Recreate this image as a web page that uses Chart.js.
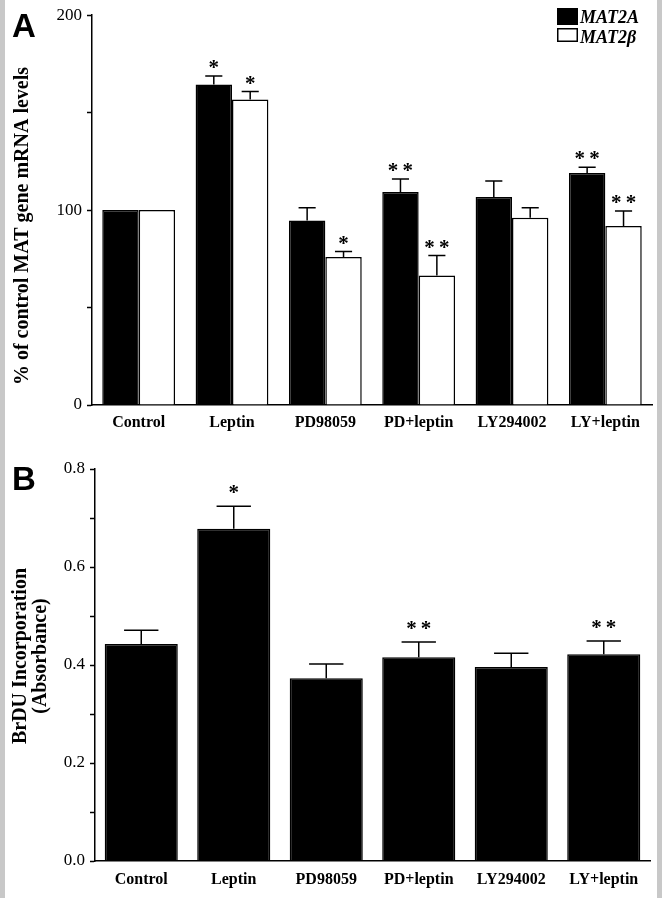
<!DOCTYPE html>
<html>
<head>
<meta charset="utf-8">
<script src="https://cdn.jsdelivr.net/npm/chart.js@4.4.1/dist/chart.umd.min.js"></script>
<style>
    html, body { margin: 0; padding: 0; background: #fff; }
    body { width: 662px; height: 898px; position: relative; overflow: hidden; }
    .edge { position: absolute; top: 0; width: 5px; height: 898px; background: #c8c8c8; }
    #panelA { position: absolute; left: 0; top: 0; }
    #panelB { position: absolute; left: 0; top: 450px; }
</style>
</head>
<body>
<div class="edge" style="left:0"></div>
<div class="edge" style="left:657px"></div>
<canvas id="panelA" width="662" height="450"></canvas>
<canvas id="panelB" width="662" height="448"></canvas>
<script>
// treatments on the x axis (both panels)
const treatments = ['Control', 'Leptin', 'PD98059', 'PD+leptin', 'LY294002', 'LY+leptin'];

// panel A: % of control MAT gene mRNA levels
const mat2aValues = [100, 164.5, 94.7, 109.3, 106.7, 119];
const mat2aErrors = [0, 4.3, 6.5, 6.6, 8.2, 3];
const mat2aMarks = ['', '*', '', '**', '', '**'];
const mat2bValues = [100, 156.8, 76, 66.5, 96.1, 91.8];
const mat2bErrors = [0, 4, 2.7, 10.2, 5.1, 7.7];
const mat2bMarks = ['', '*', '*', '**', '', '**'];
const mrnaTickLabels = ['0', '100', '200'];

// panel B: BrDU incorporation (absorbance)
const brduValues = [0.443, 0.678, 0.373, 0.416, 0.396, 0.422];
const brduErrors = [0.028, 0.046, 0.029, 0.031, 0.028, 0.027];
const brduMarks = ['', '*', '', '**', '', '**'];
const brduTickLabels = ['0.0', '0.2', '0.4', '0.6', '0.8'];

const serif = '"Liberation Serif", "Times New Roman", serif';
Chart.defaults.font.family = serif;
Chart.defaults.color = '#000';

// upward error bars with a cap, plus the significance stars above them
const errorBars = {
    id: 'errorBars',
    afterDatasetsDraw(chart, args, opts) {
        const ctx = chart.ctx;
        const yScale = chart.scales.y;
        ctx.save();
        ctx.strokeStyle = '#000';
        ctx.fillStyle = '#000';
        ctx.lineWidth = 1.5;
        chart.data.datasets.forEach((ds, i) => {
            const meta = chart.getDatasetMeta(i);
            meta.data.forEach((bar, j) => {
                const err = ds.errors[j];
                const top = yScale.getPixelForValue(ds.data[j] + err);
                const half = bar.width * opts.capRatio / 2;
                if (err > 0) {
                    ctx.beginPath();
                    ctx.moveTo(bar.x, bar.y);
                    ctx.lineTo(bar.x, top);
                    ctx.moveTo(bar.x - half, top);
                    ctx.lineTo(bar.x + half, top);
                    ctx.stroke();
                }
                if (ds.marks[j]) {
                    ctx.font = 'bold 21px ' + serif;
                    ctx.textAlign = 'center';
                    ctx.textBaseline = 'alphabetic';
                    ctx.fillText(ds.marks[j].split('').join('\u2009'), bar.x, top - opts.markGap);
                }
            });
        });
        ctx.restore();
    }
};

// panel letter and rotated y title
const panelDecor = {
    id: 'panelDecor',
    afterDraw(chart, args, opts) {
        const ctx = chart.ctx;
        ctx.save();
        ctx.fillStyle = '#000';
        ctx.font = 'bold 33px "Liberation Sans", Arial, sans-serif';
        ctx.textAlign = 'left';
        ctx.textBaseline = 'alphabetic';
        ctx.fillText(opts.letter, opts.letterX, opts.letterY);

        ctx.translate(opts.titleX, opts.titleY);
        ctx.rotate(-Math.PI / 2);
        ctx.font = 'bold 20px ' + serif;
        ctx.textAlign = 'center';
        ctx.textBaseline = 'middle';
        opts.title.forEach((line, k) => ctx.fillText(line, 0, k * opts.titleLine));
        ctx.restore();

        if (opts.legend) {
            ctx.save();
            ctx.font = 'italic bold 18px ' + serif;
            ctx.textAlign = 'left';
            ctx.textBaseline = 'alphabetic';
            ctx.lineWidth = 1.5;
            chart.data.datasets.forEach((ds, i) => {
                const y = opts.legendY + i * 20;
                ctx.fillStyle = ds.backgroundColor;
                ctx.fillRect(opts.legendX, y, 21, i === 0 ? 17 : 14);
                ctx.strokeStyle = '#000';
                ctx.strokeRect(opts.legendX + 0.75, y + 0.75, 19.5, i === 0 ? 15.5 : 12.5);
                ctx.fillStyle = '#000';
                ctx.fillText(ds.label, opts.legendX + 23, y + 15);
            });
            ctx.restore();
        }
    }
};

function yAxis(max, step, width, label) {
    return {
        min: 0,
        max: max,
        afterFit: (scale) => { scale.width = width; },
        ticks: {
            stepSize: step,
            padding: 5,
            font: { size: 17 },
            callback: label
        },
        grid: {
            drawOnChartArea: false,
            drawTicks: true,
            tickLength: 5,
            tickWidth: 1.5,
            tickColor: '#000'
        },
        border: { color: '#000', width: 1.5 }
    };
}

function xAxis(height, pad) {
    return {
        afterFit: (scale) => { scale.height = height; },
        ticks: {
            padding: pad,
            maxRotation: 0,
            font: { size: 16, weight: 'bold' }
        },
        grid: { drawOnChartArea: false, drawTicks: false },
        border: { color: '#000', width: 1.5 }
    };
}

new Chart(document.getElementById('panelA'), {
    type: 'bar',
    data: {
        labels: treatments,
        datasets: [{
            label: 'MAT2A',
            data: mat2aValues,
            errors: mat2aErrors,
            marks: mat2aMarks,
            backgroundColor: '#000',
            borderColor: '#000',
            borderWidth: 1.5,
            categoryPercentage: 0.78,
            barPercentage: 1
        },
        {
            label: 'MAT2\u03b2',
            data: mat2bValues,
            errors: mat2bErrors,
            marks: mat2bMarks,
            backgroundColor: '#fff',
            borderColor: '#000',
            borderWidth: 1.5,
            categoryPercentage: 0.78,
            barPercentage: 1
        }]
    },
    plugins: [errorBars, panelDecor],
    options: {
        responsive: false,
        animation: false,
        layout: { padding: { top: 13, right: 10, bottom: 0, left: 0 } },
        scales: {
            x: xAxis(45, 8),
            y: yAxis(200, 50, 92, (v) => v % 100 === 0 ? mrnaTickLabels[v / 100] : '')
        },
        plugins: {
            legend: { display: false },
            tooltip: { enabled: false },
            errorBars: { capRatio: 0.47, markGap: 2 },
            panelDecor: {
                letter: 'A', letterX: 12, letterY: 37,
                title: ['% of control MAT gene mRNA levels'], titleX: 23, titleY: 226, titleLine: 18,
                legend: true, legendX: 557, legendY: 8
            }
        }
    }
});

new Chart(document.getElementById('panelB'), {
    type: 'bar',
    data: {
        labels: treatments,
        datasets: [{
            label: 'BrDU',
            data: brduValues,
            errors: brduErrors,
            marks: brduMarks,
            backgroundColor: '#000',
            borderColor: '#000',
            borderWidth: 1.5,
            categoryPercentage: 0.79,
            barPercentage: 1
        }]
    },
    plugins: [errorBars, panelDecor],
    options: {
        responsive: false,
        animation: false,
        layout: { padding: { top: 19, right: 12, bottom: 0, left: 0 } },
        scales: {
            x: xAxis(37, 9),
            y: yAxis(0.8, 0.1, 95, (v) => {
                const k = Math.round(v * 10);
                return k % 2 === 0 ? brduTickLabels[k / 2] : '';
            })
        },
        plugins: {
            legend: { display: false },
            tooltip: { enabled: false },
            errorBars: { capRatio: 0.47, markGap: 7 },
            panelDecor: {
                letter: 'B', letterX: 12, letterY: 40,
                title: ['BrDU Incorporation', '(Absorbance)'], titleX: 21, titleY: 206, titleLine: 20,
                legend: false
            }
        }
    }
});
</script>
</body>
</html>
